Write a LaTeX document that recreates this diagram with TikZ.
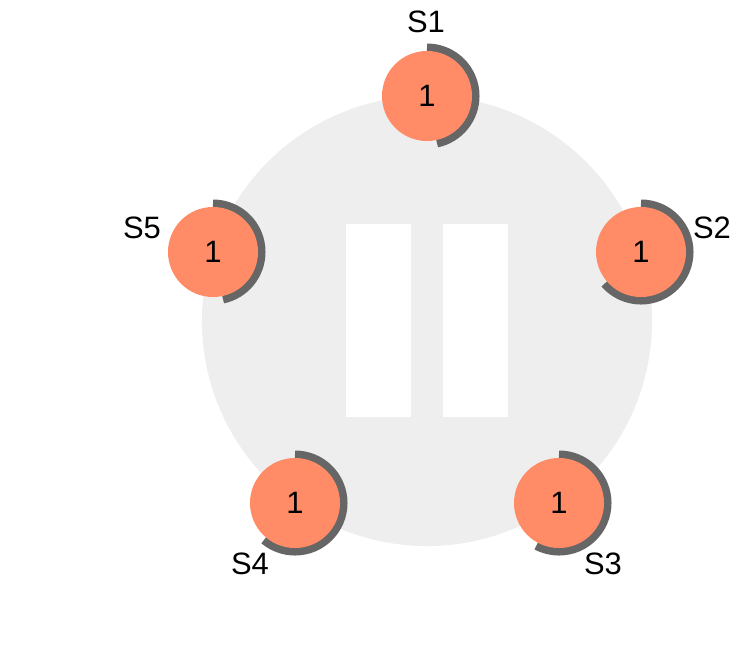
\documentclass[tikz,border=0pt]{standalone}
\usepackage{fontspec}
\setmainfont{Liberation Sans}
\definecolor{discgray}{RGB}{238,238,238}
\definecolor{serverorange}{RGB}{255,140,102}
\definecolor{ringgray}{RGB}{102,102,102}
\tikzset{
  server/.style={circle, fill=serverorange, minimum size=2.25cm, inner sep=0pt, font=\fontsize{22}{26}\selectfont},
  servertag/.style={inner sep=0pt, font=\fontsize{22}{26}\selectfont},
  pausebar/.style={fill=white, minimum width=1.625cm, minimum height=4.825cm, inner sep=0pt},
}

\begin{document}
\begin{tikzpicture}[x=0.025cm, y=0.025cm]
\useasboundingbox (0,0) rectangle (756,654);
% backdrop
\node[circle, fill=discgray, minimum size=11.25cm, inner sep=0pt] (disc) at (427,333) {};
\node[pausebar] (barleft) at (378.5,333.5) {};
\node[pausebar] (barright) at (475.5,333.5) {};
% servers: name, centre, sweep of the ring
\foreach \name/\cx/\cy/\sweep in {s1/427/558/168, s2/641/402/229, s3/559/151/208, s4/295/151/220, s5/213/402/168} {
  \draw[ringgray, line width=0.2cm] (\cx,\cy) ++(0,48.5) arc[start angle=90, delta angle=-\sweep, radius=1.2125cm];
  \node[server] (\name) at (\cx,\cy) {1};
}
\node[servertag] (tags1) at (426,632) {S1};
\node[servertag] (tags2) at (712,426) {S2};
\node[servertag] (tags3) at (603,90) {S3};
\node[servertag] (tags4) at (250,90) {S4};
\node[servertag] (tags5) at (142,426) {S5};
\end{tikzpicture}
\end{document}
